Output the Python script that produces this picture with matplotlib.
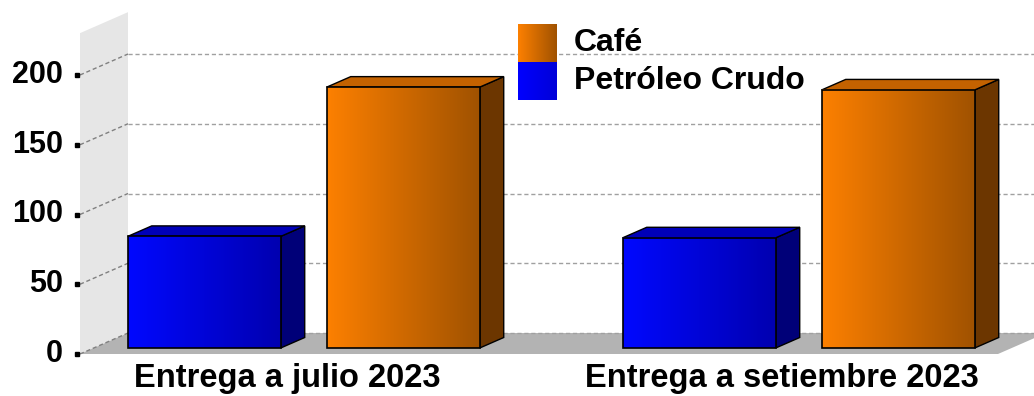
import numpy as np
import matplotlib
matplotlib.use("Agg")
import matplotlib.pyplot as plt
from matplotlib.patches import Polygon, Rectangle
from matplotlib.colors import LinearSegmentedColormap

plt.rcParams['font.family'] = ['Liberation Sans', 'DejaVu Sans']

# data
categories = ["Entrega a julio 2023", "Entrega a setiembre 2023"]
series_names = ["Café", "Petróleo Crudo"]
petroleo = [80, 79]
cafe = [187, 185]
yticks = [0, 50, 100, 150, 200]
ytop = 230

W, H = 1034, 396
PX_X = 495.0   # pixels per category
PX_Y = 1.395   # pixels per unit
X0, Y0 = 290, 354  # pixel position of (0, 0) on the front plane

def px2d(px, py):
    return (px - X0) / PX_X, (Y0 - py) / PX_Y

fig = plt.figure(figsize=(W / 100, H / 100), dpi=100)
ax = fig.add_axes([0, 0, 1, 1])
ax.axis('off')
xmin, xmax = -X0 / PX_X, (W - X0) / PX_X
ymin, ymax = -(H - Y0) / PX_Y, Y0 / PX_Y

DX = 48 / PX_X
DY = 21 / PX_Y
wall_x = px2d(80, 0)[0]
floor_r = px2d(998, 0)[0]

# wall and floor
ax.add_patch(Polygon([(wall_x, 0), (wall_x + DX, DY), (wall_x + DX, ytop + DY), (wall_x, ytop)],
                     closed=True, facecolor='#e6e6e6', edgecolor='none', zorder=1))
ax.add_patch(Polygon([(wall_x, 0), (floor_r, 0), (floor_r + DX, DY), (wall_x + DX, DY)],
                     closed=True, facecolor='#b3b3b3', edgecolor='none', zorder=1))

# grid
for t in yticks:
    ax.plot([wall_x + DX, xmax], [t + DY, t + DY], color='#a0a0a0', lw=1, ls=(0, (3, 2)), zorder=2)
    ax.plot([wall_x, wall_x + DX], [t, t + DY], color='#808080', lw=1, ls=(0, (3, 2)), zorder=2)
    ax.plot([px2d(77, 0)[0]], [t], marker='s', ms=3, color='black', zorder=3)
    ax.text(px2d(63, 0)[0], t, str(t), ha='right', va='center', fontsize=22,
            fontweight='bold', color='black', zorder=3)

blue_cm = LinearSegmentedColormap.from_list('b', ['#0008ff', '#0000b0'])
orng_cm = LinearSegmentedColormap.from_list('o', ['#fd8000', '#a05200'])
grad = np.linspace(0, 1, 256).reshape(1, -1)

BW = 153 / PX_X
GAP = 46 / PX_X
d0, d1 = 0.286, 0.786
dd = d1 - d0

def bar3d(xc, v, cmap, side, top):
    xl = xc - BW / 2 + d0 * DX
    xr = xc + BW / 2 + d0 * DX
    yb = d0 * DY
    yt = v + d0 * DY
    ax.add_patch(Polygon([(xr, yb), (xr + dd * DX, yb + dd * DY), (xr + dd * DX, yt + dd * DY), (xr, yt)],
                         closed=True, facecolor=side, edgecolor='black', lw=1, zorder=4))
    ax.add_patch(Polygon([(xl, yt), (xr, yt), (xr + dd * DX, yt + dd * DY), (xl + dd * DX, yt + dd * DY)],
                         closed=True, facecolor=top, edgecolor='black', lw=1, zorder=4))
    ax.imshow(grad, cmap=cmap, extent=(xl, xr, yb, yt), aspect='auto', zorder=5, interpolation='bilinear')
    ax.add_patch(Rectangle((xl, yb), xr - xl, yt - yb, facecolor='none', edgecolor='black', lw=1.2, zorder=6))

for i in range(len(categories)):
    bar3d(i - (BW + GAP) / 2, petroleo[i], blue_cm, '#000078', '#0000b8')
    bar3d(i + (BW + GAP) / 2, cafe[i], orng_cm, '#6c3600', '#c46200')
    ax.text(i - 0.006, px2d(0, 379)[1], categories[i], ha='center', va='center', fontsize=23.5,
            fontweight='bold', color='black', zorder=7)

# legend
leg_cms = [LinearSegmentedColormap.from_list('o2', ['#fd8000', '#a05200']),
           LinearSegmentedColormap.from_list('b2', ['#0000ff', '#0000d8'])]
for k, (cm, name) in enumerate(zip(leg_cms, series_names)):
    x1, y1 = px2d(518, 24 + 38 * k)
    x2, y2 = px2d(557, 62 + 38 * k)
    ax.imshow(grad, cmap=cm, extent=(x1, x2, y2, y1), aspect='auto', zorder=7)
    ax.text(px2d(574, 0)[0], px2d(0, 43 + 38 * k)[1], name, ha='left', va='center',
            fontsize=23, fontweight='bold', color='black', zorder=7)

ax.set_xlim(xmin, xmax)
ax.set_ylim(ymin, ymax)
fig.savefig('out.png', dpi=100)
